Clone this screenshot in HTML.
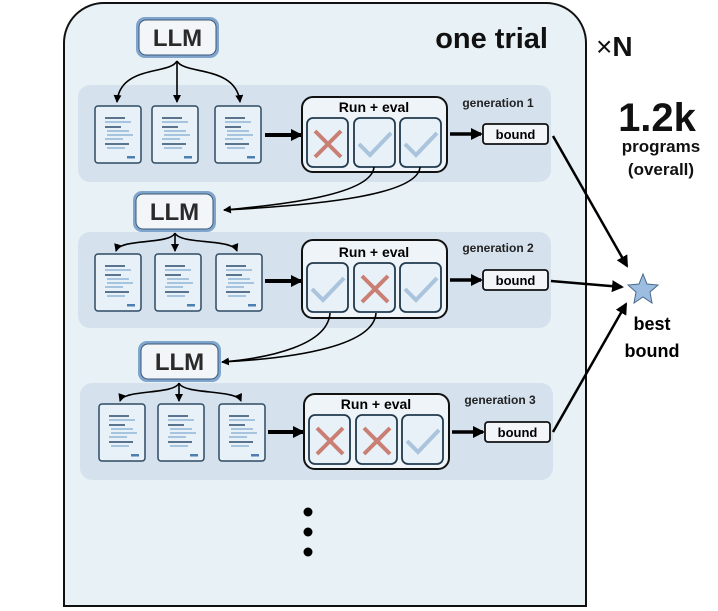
<!DOCTYPE html>
<html><head><style>body{margin:0;background:#fff}svg{display:block;font-family:"Liberation Sans",sans-serif}</style></head><body>
<svg width="718" height="611" viewBox="0 0 718 611">
<defs>
<marker id="a" markerWidth="8" markerHeight="8" refX="7" refY="4" orient="auto" markerUnits="userSpaceOnUse"><path d="M0,0L8,4L0,8z" fill="#000"/></marker>
<marker id="b" markerWidth="12" markerHeight="12" refX="10" refY="6" orient="auto" markerUnits="userSpaceOnUse"><path d="M0,0L12,6L0,12z" fill="#000"/></marker>
<g id="doc"><rect x="0" y="0" width="46" height="57" rx="3" fill="#e8f1f8" stroke="#2f4a63" stroke-width="1.5"/>
<g stroke-width="1.5"><line x1="10" y1="12" x2="30" y2="12" stroke="#2b4a6b"/><line x1="10" y1="16" x2="36" y2="16" stroke="#8fb5d5"/><line x1="10" y1="21" x2="26" y2="21" stroke="#2b4a6b"/><line x1="12" y1="25" x2="34" y2="25" stroke="#8fb5d5"/><line x1="12" y1="29" x2="38" y2="29" stroke="#8fb5d5"/><line x1="10" y1="33" x2="28" y2="33" stroke="#8fb5d5"/><line x1="10" y1="38" x2="34" y2="38" stroke="#2b4a6b"/><line x1="12" y1="42" x2="30" y2="42" stroke="#8fb5d5"/></g>
<rect x="32" y="50" width="8" height="2.5" fill="#4d7fb0"/></g>
<g id="x"><rect x="0" y="0" width="41" height="49" rx="6" fill="#e8f1f8" stroke="#213a4e" stroke-width="1.8"/><path d="M8,13L34,39M34,13L8,39" stroke="#c97f74" stroke-width="4"/></g>
<g id="c"><rect x="0" y="0" width="41" height="49" rx="6" fill="#e8f1f8" stroke="#213a4e" stroke-width="1.8"/><path d="M5,26L16,37L37,15" stroke="#a9c4dc" stroke-width="4" fill="none"/></g>
<g id="llm"><rect x="0" y="0" width="83" height="41" rx="9" fill="#7fa5cc"/><rect x="3" y="3" width="77" height="35" rx="7" fill="#f3f6f9" stroke="#3b5878" stroke-width="1"/><text x="41.5" y="29" text-anchor="middle" font-size="24" font-weight="bold" fill="#2a2a2a">LLM</text></g>
</defs>
<path d="M104,3H546A40,40 0 0 1 586,43V606H64V43A40,40 0 0 1 104,3Z" fill="#e8f1f5" stroke="#111" stroke-width="2"/>
<text x="548" y="48" text-anchor="end" font-size="29" font-weight="bold" fill="#111">one trial</text>
<text x="596" y="56" font-size="28" fill="#111">×<tspan font-weight="bold">N</tspan></text>
<text x="657" y="131" text-anchor="middle" font-size="40" font-weight="bold" fill="#111">1.2k</text>
<text x="661" y="152" text-anchor="middle" font-size="17" font-weight="bold" fill="#111">programs</text>
<text x="661" y="175" text-anchor="middle" font-size="17" font-weight="bold" fill="#111">(overall)</text>
<rect x="78" y="85" width="473" height="97" rx="12" fill="#d5e2ee"/>
<rect x="78" y="232" width="473" height="96" rx="12" fill="#d5e2ee"/>
<rect x="80" y="383" width="473" height="97" rx="12" fill="#d5e2ee"/>
<!-- gen1 -->
<use href="#llm" x="136" y="17"/>
<path d="M177,61C170,75 120,65 117,102" stroke="#000" stroke-width="1.6" fill="none" marker-end="url(#a)"/>
<path d="M177,61C184,75 236,65 240,102" stroke="#000" stroke-width="1.6" fill="none" marker-end="url(#a)"/>
<path d="M177,61V102" stroke="#000" stroke-width="1.6" fill="none" marker-end="url(#a)"/>
<use href="#doc" x="95" y="106"/><use href="#doc" x="152" y="106"/><use href="#doc" x="215" y="106"/>
<line x1="265" y1="135" x2="301" y2="135" stroke="#000" stroke-width="4" marker-end="url(#b)"/>
<rect x="302" y="97" width="145" height="75" rx="11" fill="#eef4f8" stroke="#111" stroke-width="2"/>
<text x="374" y="112" text-anchor="middle" font-size="14" font-weight="bold">Run + eval</text>
<use href="#x" x="307" y="118"/><use href="#c" x="354" y="118"/><use href="#c" x="400" y="118"/>
<line x1="450" y1="134" x2="481" y2="134" stroke="#000" stroke-width="3.5" marker-end="url(#b)"/>
<rect x="483" y="124" width="65" height="20" rx="3" fill="#f3f6f9" stroke="#111" stroke-width="1.8"/>
<text x="515.5" y="139" text-anchor="middle" font-size="13" font-weight="bold">bound</text>
<text x="498" y="107" text-anchor="middle" font-size="12" font-weight="bold" fill="#222">generation 1</text>
<path d="M374,167C372,195 280,205 224,210" stroke="#000" stroke-width="1.6" fill="none" marker-end="url(#a)"/>
<path d="M420,167C418,195 320,205 224,210" stroke="#000" stroke-width="1.6" fill="none"/>
<!-- gen2 -->
<use href="#llm" x="133" y="191"/>
<path d="M175,233C170,245 120,238 116,251" stroke="#000" stroke-width="1.6" fill="none" marker-end="url(#a)"/>
<path d="M175,233V251" stroke="#000" stroke-width="1.6" fill="none" marker-end="url(#a)"/>
<path d="M175,233C180,245 232,238 237,251" stroke="#000" stroke-width="1.6" fill="none" marker-end="url(#a)"/>
<use href="#doc" x="95" y="254"/><use href="#doc" x="155" y="254"/><use href="#doc" x="216" y="254"/>
<line x1="265" y1="281" x2="301" y2="281" stroke="#000" stroke-width="4" marker-end="url(#b)"/>
<rect x="302" y="240" width="145" height="78" rx="11" fill="#eef4f8" stroke="#111" stroke-width="2"/>
<text x="374" y="257" text-anchor="middle" font-size="14" font-weight="bold">Run + eval</text>
<use href="#c" x="307" y="263"/><use href="#x" x="354" y="263"/><use href="#c" x="400" y="263"/>
<line x1="450" y1="280" x2="481" y2="280" stroke="#000" stroke-width="3.5" marker-end="url(#b)"/>
<rect x="483" y="270" width="65" height="20" rx="3" fill="#f3f6f9" stroke="#111" stroke-width="1.8"/>
<text x="515.5" y="285" text-anchor="middle" font-size="13" font-weight="bold">bound</text>
<text x="498" y="252" text-anchor="middle" font-size="12" font-weight="bold" fill="#222">generation 2</text>
<path d="M330,313C328,345 270,358 222,362" stroke="#000" stroke-width="1.6" fill="none" marker-end="url(#a)"/>
<path d="M376,313C374,345 300,358 222,362" stroke="#000" stroke-width="1.6" fill="none"/>
<!-- gen3 -->
<use href="#llm" x="138" y="341"/>
<path d="M179,383C174,395 124,389 120,401" stroke="#000" stroke-width="1.6" fill="none" marker-end="url(#a)"/>
<path d="M179,383V401" stroke="#000" stroke-width="1.6" fill="none" marker-end="url(#a)"/>
<path d="M179,383C184,395 236,389 241,401" stroke="#000" stroke-width="1.6" fill="none" marker-end="url(#a)"/>
<use href="#doc" x="99" y="404"/><use href="#doc" x="158" y="404"/><use href="#doc" x="219" y="404"/>
<line x1="268" y1="432" x2="303" y2="432" stroke="#000" stroke-width="4" marker-end="url(#b)"/>
<rect x="304" y="394" width="145" height="75" rx="11" fill="#eef4f8" stroke="#111" stroke-width="2"/>
<text x="376" y="409" text-anchor="middle" font-size="14" font-weight="bold">Run + eval</text>
<use href="#x" x="309" y="415"/><use href="#x" x="356" y="415"/><use href="#c" x="402" y="415"/>
<line x1="452" y1="432" x2="483" y2="432" stroke="#000" stroke-width="3.5" marker-end="url(#b)"/>
<rect x="485" y="422" width="65" height="20" rx="3" fill="#f3f6f9" stroke="#111" stroke-width="1.8"/>
<text x="517.5" y="437" text-anchor="middle" font-size="13" font-weight="bold">bound</text>
<text x="500" y="404" text-anchor="middle" font-size="12" font-weight="bold" fill="#222">generation 3</text>
<circle cx="308" cy="512" r="4.5" fill="#000"/><circle cx="308" cy="532" r="4.5" fill="#000"/><circle cx="308" cy="552" r="4.5" fill="#000"/>
<line x1="553" y1="136" x2="627" y2="266" stroke="#000" stroke-width="2.5" marker-end="url(#b)"/>
<line x1="551" y1="281" x2="622" y2="287" stroke="#000" stroke-width="2.5" marker-end="url(#b)"/>
<line x1="553" y1="432" x2="626" y2="304" stroke="#000" stroke-width="2.5" marker-end="url(#b)"/>
<path d="M643,274L647,284L658,285L650,292L652,303L643,297L634,303L636,292L628,285L639,284Z" fill="#9dbde0" stroke="#4a6a8a" stroke-width="1"/>
<text x="652" y="330" text-anchor="middle" font-size="18" font-weight="bold">best</text>
<text x="652" y="357" text-anchor="middle" font-size="18" font-weight="bold">bound</text>
</svg>
</body></html>
